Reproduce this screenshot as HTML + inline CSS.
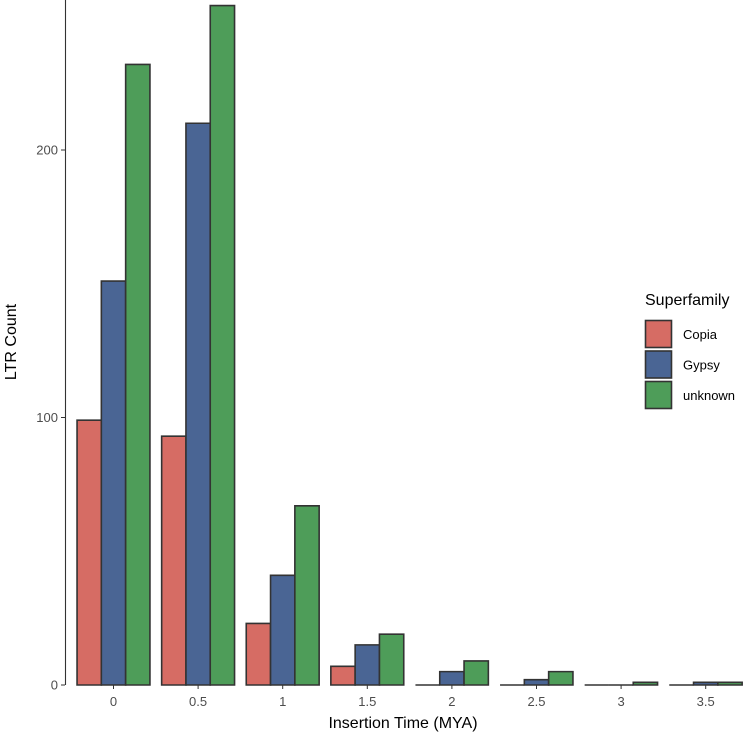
<!DOCTYPE html>
<html><head><meta charset="utf-8"><style>
body{margin:0;background:#fff;}
svg{display:block;font-family:"Liberation Sans",sans-serif;}
</style></head><body>
<svg id="chart" width="744" height="737">
<g id="bars"></g>
<line x1="65.5" y1="0" x2="65.5" y2="685" stroke="#333" stroke-width="1.1"/>
<g id="yticks"></g>
<g id="xticks"></g>
<text x="16" y="342" transform="rotate(-90 16 342)" text-anchor="middle" font-size="16" fill="#000">LTR Count</text>
<text x="403" y="728" text-anchor="middle" font-size="16" fill="#000">Insertion Time (MYA)</text>
<g>
<text x="645" y="305" font-size="16" fill="#000">Superfamily</text>
<g id="legend"></g>
</g>
</svg>
<script>
const categories=["0","0.5","1","1.5","2","2.5","3","3.5"];
const series=["Copia","Gypsy","unknown"];
const colors=["#D66C64","#4A6594","#4E9D59"];
const copia=[99,93,23,7,0,0,0,0];
const gypsy=[151,210,41,15,5,2,0,1];
const unknown=[232,254,67,19,9,5,1,1];
const yTicks=[0,100,200];
const values=[copia,gypsy,unknown];
const NS="http://www.w3.org/2000/svg";
function y(v){return 685-v*2.675;}
function xc(i){return 113.5+i*84.6;}
const bw=24.3;
const bars=document.getElementById('bars');
categories.forEach((c,i)=>{
  values.forEach((arr,s)=>{
    const r=document.createElementNS(NS,'path');
    const x0=xc(i)-1.5*bw+s*bw;
    const y0=y(arr[i]);
    r.setAttribute('d','M'+x0+' 685 L'+x0+' '+y0+' L'+(x0+bw)+' '+y0+' L'+(x0+bw)+' 685 Z');
    r.setAttribute('fill',colors[s]);r.setAttribute('stroke','#333');r.setAttribute('stroke-width','1.6');
    
    
    bars.appendChild(r);
  });
});
const yt=document.getElementById('yticks');
yTicks.forEach(v=>{
  const l=document.createElementNS(NS,'line');
  l.setAttribute('x1',61);l.setAttribute('x2',65);l.setAttribute('y1',y(v));l.setAttribute('y2',y(v));l.setAttribute('stroke','#333');
  
  
  yt.appendChild(l);
  const t=document.createElementNS(NS,'text');
  t.setAttribute('x',58);t.setAttribute('y',y(v)+4.5);t.setAttribute('text-anchor','end');t.setAttribute('font-size','13');t.setAttribute('fill','#4d4d4d');
  t.textContent=v;
  
  
  yt.appendChild(t);
});
const xt=document.getElementById('xticks');
categories.forEach((c,i)=>{
  const l=document.createElementNS(NS,'line');
  l.setAttribute('x1',xc(i));l.setAttribute('x2',xc(i));l.setAttribute('y1',685);l.setAttribute('y2',689);l.setAttribute('stroke','#333');
  
  
  xt.appendChild(l);
  const t=document.createElementNS(NS,'text');
  t.setAttribute('x',xc(i));t.setAttribute('y',706);t.setAttribute('text-anchor','middle');t.setAttribute('font-size','13');t.setAttribute('fill','#4d4d4d');
  t.textContent=c;
  
  
  xt.appendChild(t);
});
const lg=document.getElementById('legend');
series.forEach((s,i)=>{
  const r=document.createElementNS(NS,'rect');
  r.setAttribute('x',645.5);r.setAttribute('y',320.5+i*30.5);r.setAttribute('width',26);r.setAttribute('height',27);
  r.setAttribute('fill',colors[i]);r.setAttribute('stroke','#333');r.setAttribute('stroke-width','1.6');
  
  
  lg.appendChild(r);
  const t=document.createElementNS(NS,'text');
  t.setAttribute('x',683);t.setAttribute('y',339+i*30.5);t.setAttribute('font-size','13');t.setAttribute('fill','#000');
  t.textContent=s;
  
  
  lg.appendChild(t);
});
</script>
</body></html>
